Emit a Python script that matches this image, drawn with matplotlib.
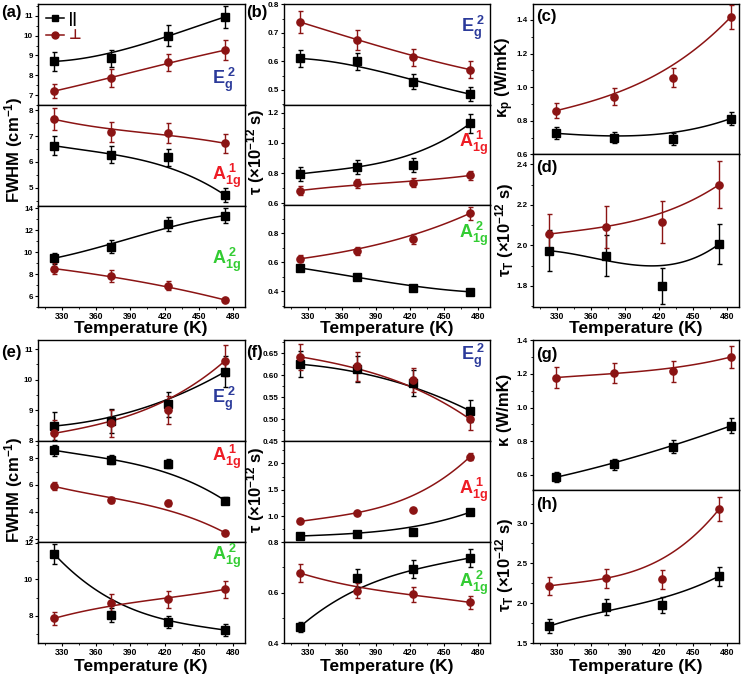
import numpy as np
import matplotlib
matplotlib.use('Agg')
import matplotlib.pyplot as plt
from matplotlib.ticker import MultipleLocator, AutoMinorLocator
from matplotlib.lines import Line2D

plt.rcParams['font.family'] = ['Liberation Sans', 'DejaVu Sans']
plt.rcParams['font.weight'] = 'bold'
plt.rcParams['mathtext.fontset'] = 'custom'
plt.rcParams['mathtext.rm'] = 'Liberation Sans:bold'
plt.rcParams['mathtext.bf'] = 'Liberation Sans:bold'
plt.rcParams['mathtext.it'] = 'Liberation Sans:bold'

# ---------------- data ----------------
T = [323, 373, 423, 473]

# (a) FWHM, top set
a_eg2_par = [8.70, 8.85, 10.00, 10.95];  a_eg2_par_err = [0.48, 0.44, 0.52, 0.54]
a_eg2_perp = [7.20, 7.85, 8.65, 9.27];   a_eg2_perp_err = [0.37, 0.45, 0.45, 0.49]
a_a1_par = [6.63, 6.28, 6.18, 4.72];     a_a1_par_err = [0.37, 0.33, 0.33, 0.27]
a_a1_perp = [7.65, 7.15, 7.12, 6.72];    a_a1_perp_err = [0.43, 0.38, 0.38, 0.37]
a_a2_par = [9.44, 10.50, 12.57, 13.33];  a_a2_par_err = [0.52, 0.58, 0.65, 0.68]
a_a2_perp = [8.50, 7.83, 6.95, 5.64];    a_a2_perp_err = [0.49, 0.53, 0.41, 0.20]

# (b) lifetime, top set
b_eg2_par = [0.610, 0.600, 0.529, 0.485];  b_eg2_par_err = [0.030, 0.030, 0.025, 0.025]
b_eg2_perp = [0.738, 0.676, 0.614, 0.571]; b_eg2_perp_err = [0.038, 0.035, 0.030, 0.030]
b_a1_par = [0.795, 0.840, 0.853, 1.128];   b_a1_par_err = [0.045, 0.045, 0.045, 0.060]
b_a1_perp = [0.685, 0.732, 0.738, 0.785];  b_a1_perp_err = [0.030, 0.030, 0.030, 0.030]
b_a2_par = [0.560, 0.500, 0.420, 0.395];   b_a2_par_err = [0.020, 0.015, 0.012, 0.012]
b_a2_perp = [0.623, 0.678, 0.761, 0.938];  b_a2_perp_err = [0.025, 0.030, 0.035, 0.045]

# (c) kappa_p, (d) tau_T
c_par = [0.725, 0.700, 0.690, 0.813];   c_par_err = [0.035, 0.035, 0.035, 0.040]
c_perp = [0.860, 0.944, 1.057, 1.418];  c_perp_err = [0.045, 0.050, 0.055, 0.070]
d_par = [1.974, 1.950, 1.800, 2.007];   d_par_err = [0.100, 0.100, 0.090, 0.100]
d_perp = [2.056, 2.090, 2.115, 2.300];  d_perp_err = [0.100, 0.105, 0.105, 0.115]

# (e) FWHM, bottom set
e_eg2_par = [8.48, 8.65, 9.19, 10.26];  e_eg2_par_err = [0.45, 0.40, 0.40, 0.50]
e_eg2_perp = [8.24, 8.57, 9.00, 10.62]; e_eg2_perp_err = [0.45, 0.45, 0.45, 0.50]
e_a1_par = [8.59, 7.88, 7.58, 4.84];    e_a1_par_err = [0.40, 0.35, 0.35, 0.25]
e_a1_perp = [5.90, 4.89, 4.67, 2.44];   e_a1_perp_err = [0.30, 0.20, 0.20, 0.15]
e_a2_par = [11.40, 8.04, 7.66, 7.21];   e_a2_par_err = [0.55, 0.40, 0.35, 0.35]
e_a2_perp = [7.85, 8.72, 8.90, 9.45];   e_a2_perp_err = [0.35, 0.45, 0.45, 0.45]

# (f) lifetime, bottom set
f_eg2_par = [0.625, 0.614, 0.583, 0.519];  f_eg2_par_err = [0.030, 0.030, 0.030, 0.025]
f_eg2_perp = [0.642, 0.620, 0.589, 0.500]; f_eg2_perp_err = [0.030, 0.032, 0.028, 0.025]
f_a1_par = [0.623, 0.668, 0.700, 1.075];   f_a1_par_err = [0.020, 0.020, 0.020, 0.030]
f_a1_perp = [0.900, 1.057, 1.120, 2.130];  f_a1_perp_err = [0.030, 0.030, 0.030, 0.070]
f_a2_par = [0.464, 0.658, 0.693, 0.738];   f_a2_par_err = [0.020, 0.035, 0.035, 0.035]
f_a2_perp = [0.678, 0.608, 0.593, 0.561];  f_a2_perp_err = [0.035, 0.030, 0.030, 0.025]

# (g) kappa, (h) tau_T
g_par = [0.586, 0.664, 0.768, 0.891];  g_par_err = [0.030, 0.033, 0.040, 0.045]
g_perp = [1.178, 1.204, 1.214, 1.300]; g_perp_err = [0.060, 0.060, 0.060, 0.065]
h_par = [1.710, 1.946, 1.975, 2.340];  h_par_err = [0.090, 0.100, 0.100, 0.120]
h_perp = [2.216, 2.310, 2.300, 3.180]; h_perp_err = [0.110, 0.120, 0.120, 0.150]

x_ticks = [330, 360, 390, 420, 450, 480]
legend_labels = ['||', '⊥']
mode_labels = [r'$\mathbf{E_g^{\ 2}}$', r'$\mathbf{A_{1g}^{\ 1}}$', r'$\mathbf{A_{1g}^{\ 2}}$']

# ---------------- style ----------------
W, H = 741, 678
BLK = '#000000'
RED = '#8b1414'
MODE_COL = ['#2b3a9a', '#ee1c25', '#33cc33']

fig = plt.figure(figsize=(W / 100, H / 100), dpi=100)


def rect(x0, x1, y0, y1):
    return [x0 / W, 1 - y1 / H, (x1 - x0) / W, (y1 - y0) / H]


def bezier(x, y, n=120):
    t = np.linspace(0, 1, n)[:, None]
    P = np.column_stack([x, y]).astype(float)
    B = ((1 - t) ** 3) * P[0] + 3 * ((1 - t) ** 2) * t * P[1] + 3 * (1 - t) * t ** 2 * P[2] + t ** 3 * P[3]
    return B[:, 0], B[:, 1]


def series(ax, y, e, col, mk):
    bx, by = bezier(T, y)
    ax.plot(bx, by, color=col, lw=1.1, zorder=2)
    ax.errorbar(T, y, yerr=e, fmt=mk, color=col, ms=5.2, capsize=1.8, elinewidth=1.0,
                capthick=1.0, zorder=3)


def make_ax(r, xlim, ylim, major, bottom):
    ax = fig.add_axes(r)
    ax.set_xlim(*xlim)
    ax.set_ylim(*ylim)
    ax.yaxis.set_major_locator(MultipleLocator(major))
    ax.yaxis.set_minor_locator(AutoMinorLocator(2))
    ax.xaxis.set_major_locator(MultipleLocator(30))
    ax.xaxis.set_minor_locator(MultipleLocator(15))
    ax.tick_params(axis='y', which='major', length=2.5, width=0.8, labelsize=5.8, pad=1.2)
    ax.tick_params(axis='y', which='minor', length=1.5, width=0.6)
    ax.tick_params(axis='x', which='major', length=2.5, width=0.8, labelsize=6.2, pad=1.2)
    ax.tick_params(axis='x', which='minor', length=1.5, width=0.6)
    if not bottom:
        ax.tick_params(axis='x', which='both', bottom=False, labelbottom=False)
    for s in ax.spines.values():
        s.set_linewidth(1.0)
    for lab in ax.get_yticklabels() + ax.get_xticklabels():
        lab.set_fontweight('bold')
    return ax


def stack3(x0, x1, ys, lims, majors, datasets, mode_pos):
    axes = []
    for i in range(3):
        ax = make_ax(rect(x0, x1, ys[i], ys[i + 1]), (309, 490.5), lims[i], majors[i], i == 2)
        par, par_e, perp, perp_e = datasets[i]
        series(ax, par, par_e, BLK, 's')
        series(ax, perp, perp_e, RED, 'o')
        ax.text(mode_pos[i][0], mode_pos[i][1], mode_labels[i], transform=ax.transAxes,
                color=MODE_COL[i], fontsize=13, ha='left', va='center')
        axes.append(ax)
    return axes


# ---------------- top row ----------------
axa = stack3(38, 245, [4, 105, 206, 307],
             [(6.5, 11.6), (4.3, 8.2), (5.0, 14.2)], [1, 1, 2],
             [(a_eg2_par, a_eg2_par_err, a_eg2_perp, a_eg2_perp_err),
              (a_a1_par, a_a1_par_err, a_a1_perp, a_a1_perp_err),
              (a_a2_par, a_a2_par_err, a_a2_perp, a_a2_perp_err)],
             [(0.84, 0.25), (0.84, 0.30), (0.84, 0.47)])
handles = [Line2D([], [], color=BLK, marker='s', ms=5, lw=1.1),
           Line2D([], [], color=RED, marker='o', ms=5, lw=1.1)]
axa[0].legend(handles, legend_labels, loc='upper left', frameon=False, fontsize=10,
              handlelength=1.3, handletextpad=0.3, borderaxespad=0.2, labelspacing=0.15,
              labelcolor=[BLK, RED])

axb = stack3(284, 490, [4, 105, 205, 307],
             [(0.447, 0.801), (0.59, 1.25), (0.29, 0.995)], [0.1, 0.2, 0.2],
             [(b_eg2_par, b_eg2_par_err, b_eg2_perp, b_eg2_perp_err),
              (b_a1_par, b_a1_par_err, b_a1_perp, b_a1_perp_err),
              (b_a2_par, b_a2_par_err, b_a2_perp, b_a2_perp_err)],
             [(0.86, 0.76), (0.85, 0.62), (0.85, 0.72)])

axc = make_ax(rect(533, 739, 4, 154.3), (303, 480), (0.6, 1.495), 0.2, False)
series(axc, c_par, c_par_err, BLK, 's')
series(axc, c_perp, c_perp_err, RED, 'o')
axd = make_ax(rect(533, 739, 154.3, 307), (309, 490.5), (1.696, 2.45), 0.2, True)
series(axd, d_par, d_par_err, BLK, 's')
series(axd, d_perp, d_perp_err, RED, 'o')

# ---------------- bottom row ----------------
axe = stack3(38, 245, [340, 440.7, 542, 643],
             [(8.0, 11.3), (1.75, 9.3), (6.5, 12.05)], [1, 2, 2],
             [(e_eg2_par, e_eg2_par_err, e_eg2_perp, e_eg2_perp_err),
              (e_a1_par, e_a1_par_err, e_a1_perp, e_a1_perp_err),
              (e_a2_par, e_a2_par_err, e_a2_perp, e_a2_perp_err)],
             [(0.84, 0.42), (0.84, 0.84), (0.84, 0.86)])

axf = stack3(284, 490, [340, 441.3, 542, 643],
             [(0.45, 0.68), (0.51, 2.42), (0.4, 0.801)], [0.05, 0.5, 0.2],
             [(f_eg2_par, f_eg2_par_err, f_eg2_perp, f_eg2_perp_err),
              (f_a1_par, f_a1_par_err, f_a1_perp, f_a1_perp_err),
              (f_a2_par, f_a2_par_err, f_a2_perp, f_a2_perp_err)],
             [(0.86, 0.84), (0.85, 0.52), (0.85, 0.6)])

axg = make_ax(rect(533, 739, 340, 490), (303, 480), (0.51, 1.401), 0.2, False)
series(axg, g_par, g_par_err, BLK, 's')
series(axg, g_perp, g_perp_err, RED, 'o')
axh = make_ax(rect(533, 739, 490, 643), (309, 490.5), (1.5, 3.42), 0.5, True)
series(axh, h_par, h_par_err, BLK, 's')
series(axh, h_perp, h_perp_err, RED, 'o')

for ax in [axa[2], axb[2], axd, axe[2], axf[2], axh]:
    ax.set_xticks(x_ticks)

# ---------------- labels ----------------
def ftext(x, y, s, **kw):
    fig.text(x / W, 1 - y / H, s, **kw)

XL = dict(fontsize=12.5, fontweight='bold', ha='center', va='center')
for xc in (141, 387, 636):
    ftext(xc, 329, 'Temperature (K)', **XL)
    ftext(xc, 666, 'Temperature (K)', **XL)

YL = dict(fontsize=12, fontweight='bold', ha='center', va='center', rotation=90)
ftext(14, 150, r'FWHM (cm$^{\mathbf{-1}}$)', **YL)
ftext(14, 490, r'FWHM (cm$^{\mathbf{-1}}$)', **YL)
ftext(256, 152, r'τ (×10$^{\mathbf{-12}}$ s)', **YL)
ftext(256, 490, r'τ (×10$^{\mathbf{-12}}$ s)', **YL)
ftext(505, 78, r'κ$_{\mathbf{p}}$ (W/mK)', **YL)
ftext(505, 230, r'τ$_{\mathbf{T}}$ (×10$^{\mathbf{-12}}$ s)', **YL)
ftext(505, 410, r'κ (W/mK)', **YL)
ftext(505, 565, r'τ$_{\mathbf{T}}$ (×10$^{\mathbf{-12}}$ s)', **YL)

PL = dict(fontsize=12, fontweight='bold', ha='left', va='center')
ftext(1, 13, '(a)', **PL)
ftext(246, 13, '(b)', **PL)
ftext(536, 16, '(c)', **PL)
ftext(536, 168, '(d)', **PL)
ftext(1, 352, '(e)', **PL)
ftext(246, 353, '(f)', **PL)
ftext(536, 355, '(g)', **PL)
ftext(536, 505, '(h)', **PL)

fig.savefig('out.png', dpi=100)
